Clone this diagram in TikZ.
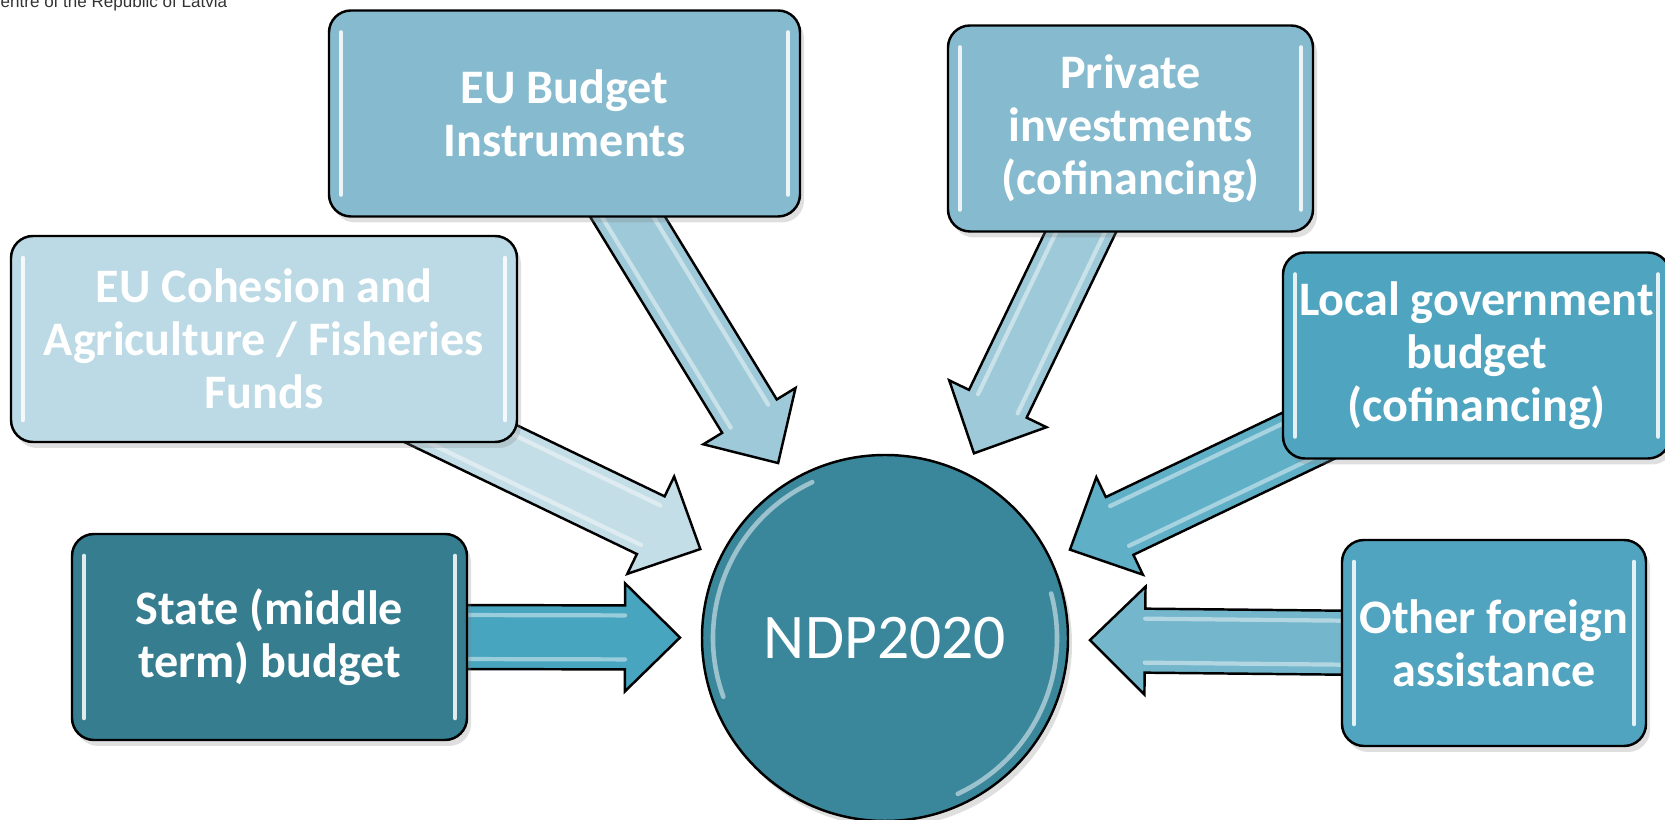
\documentclass[tikz,border=0pt]{standalone}
\usepackage{fontspec}
\setmainfont{Carlito}
\newfontfamily\notefont{Liberation Sans}
\usetikzlibrary{calc,backgrounds,shadows}

\definecolor{budgetcol}{HTML}{86BBCF}
\definecolor{cohesioncol}{HTML}{BBDAE5}
\definecolor{localcol}{HTML}{4FA4BF}
\definecolor{statecol}{HTML}{367D90}
\definecolor{othercol}{HTML}{50A4BF}
\definecolor{ndpcol}{HTML}{3A879C}
\definecolor{budgetflow}{HTML}{9DC9D8}
\definecolor{cohesionflow}{HTML}{C4DEE7}
\definecolor{localflow}{HTML}{5FAFC7}
\definecolor{stateflow}{HTML}{47A5BF}
\definecolor{otherflow}{HTML}{74B6CB}

% block arrow: colour, tail, target node
\newcommand{\flow}[3]{%
  \coordinate (fa) at (#2);
  \coordinate (fb) at ($(#3.center)!2.05cm!(fa)$);
  \coordinate (fh) at ($(fb)!0.55cm!(fa)$);
  \filldraw[flowline, fill=#1]
    ($(fa)!0.32cm!90:(fb)$) -- ($(fh)!0.32cm!90:(fb)$)
    -- ($(fh)!0.54cm!90:(fb)$) -- (fb)
    -- ($(fh)!0.54cm!-90:(fb)$) -- ($(fh)!0.32cm!-90:(fb)$)
    -- ($(fa)!0.32cm!-90:(fb)$) -- cycle;
  \draw[gloss] ($(fa)!0.22cm!90:(fb)$) -- ($(fh)!0.22cm!90:(fb)$);
  \draw[gloss] ($(fa)!0.22cm!-90:(fb)$) -- ($(fh)!0.22cm!-90:(fb)$);
}

\begin{document}
\begin{tikzpicture}[
		flowline/.style={draw=black,line width=0.7pt,line join=miter},
		gloss/.style={white,opacity=0.45,line width=1.2pt,line cap=round},
		source/.style={draw=black,line width=0.7pt,rounded corners=0.22cm,
			minimum height=2.06cm,inner sep=2pt,align=center,text=white,
			font=\fontsize{13.7}{15}\selectfont\bfseries,
			drop shadow={opacity=0.25,shadow xshift=0.4mm,shadow yshift=-0.6mm},
			path picture={
				\draw[white,line width=1.3pt,opacity=0.85,line cap=round]
					([xshift=1.2mm,yshift=-2.2mm]path picture bounding box.north west) --
					([xshift=1.2mm,yshift=2.2mm]path picture bounding box.south west)
					([xshift=-1.2mm,yshift=-2.2mm]path picture bounding box.north east) --
					([xshift=-1.2mm,yshift=2.2mm]path picture bounding box.south east);
			}},
		hub/.style={circle,draw=black,line width=0.7pt,minimum size=3.66cm,
			fill=ndpcol,text=white,font=\fontsize{18.1}{21}\selectfont,
			drop shadow={opacity=0.25,shadow xshift=0.4mm,shadow yshift=-0.6mm},
			path picture={
				\draw[white,line width=1.3pt,opacity=0.5,line cap=round]
					([shift={(115:1.72)}]path picture bounding box.center) arc (115:200:1.72)
					([shift={(-65:1.72)}]path picture bounding box.center) arc (-65:15:1.72);
			}}
	]
		\useasboundingbox (0,0) rectangle (16.65,8.2);

		% Note
		\node[anchor=base west,inner sep=0pt,text=black!80,font=\notefont\fontsize{4.85}{6}\selectfont]
			(note) at (0,8.125) {entre of the Republic of Latvia};

		% Centre
		\node[hub] (ndp) at (8.85,1.82) {NDP2020};

		% Sources
		\node[source, fill=budgetcol, minimum width=4.71cm] (budget) at (5.645,7.065) {EU Budget\\Instruments};
		\node[source, fill=budgetcol, minimum width=3.65cm] (private) at (11.305,6.915) {Private\\investments\\(cofinancing)};
		\node[source, fill=cohesioncol, minimum width=5.06cm] (cohesion) at (2.64,4.81) {EU Cohesion and\\Agriculture / Fisheries\\Funds};
		\node[source, fill=localcol, minimum width=3.87cm] (local) at (14.765,4.645) {Local government\\budget\\(cofinancing)};
		\node[source, fill=statecol, minimum width=3.95cm] (state) at (2.695,1.83) {State (middle\\term) budget};
		\node[source, fill=othercol, minimum width=3.04cm] (other) at (14.94,1.77) {Other foreign\\assistance};

		% Flows
		\begin{pgfonlayer}{background}
			\flow{budgetflow}{budget.center}{ndp}
			\flow{budgetflow}{private.center}{ndp}
			\flow{cohesionflow}{cohesion.center}{ndp}
			\flow{localflow}{local.center}{ndp}
			\flow{stateflow}{[xshift=-3mm]state.east}{ndp}
			\flow{otherflow}{[xshift=3mm]other.west}{ndp}
		\end{pgfonlayer}
	\end{tikzpicture}
\end{document}
